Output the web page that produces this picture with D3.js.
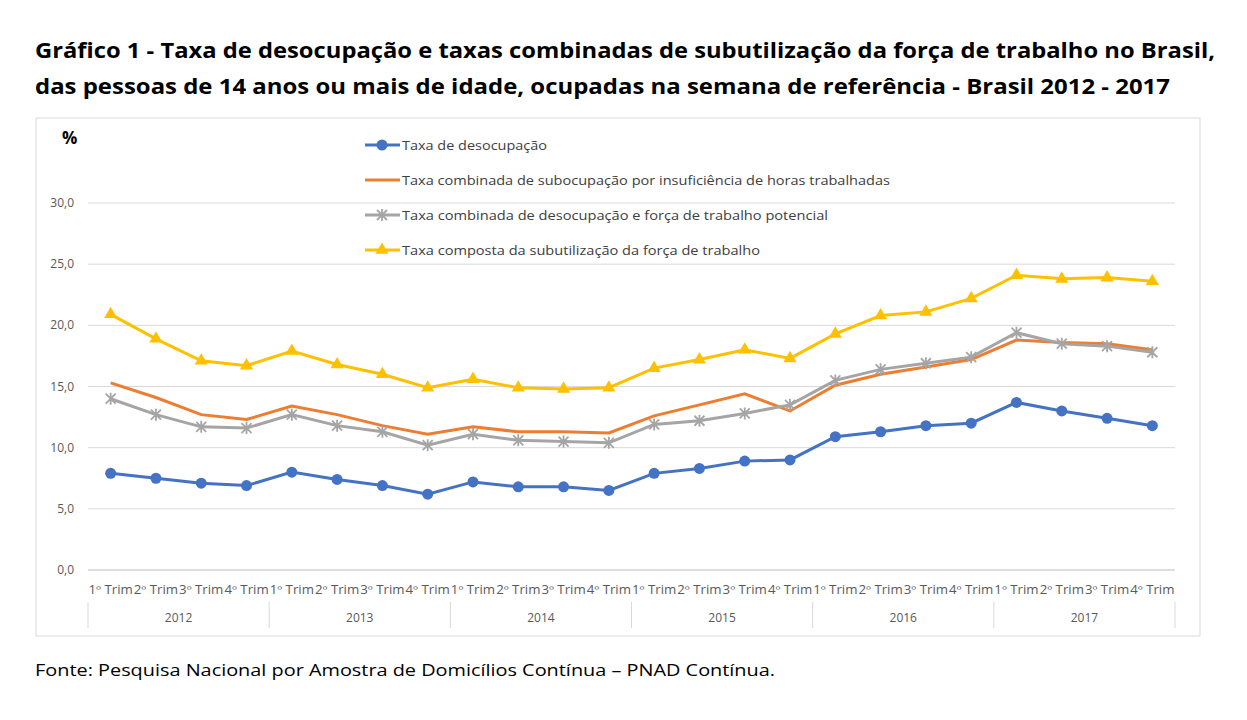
<html>
<head>
<script src="https://cdn.jsdelivr.net/npm/d3@7"></script>
</head>
<body style="margin:0;background:#fff">
<div id="chart"></div>
<script>
var years = ["2012","2013","2014","2015","2016","2017"];
var quarters = ["1º Trim","2º Trim","3º Trim","4º Trim"];
var yTicks = [0,5,10,15,20,25,30];

var desocupacao = [7.9,7.5,7.1,6.9, 8.0,7.4,6.9,6.2, 7.2,6.8,6.8,6.5, 7.9,8.3,8.9,9.0, 10.9,11.3,11.8,12.0, 13.7,13.0,12.4,11.8];
var subocupacao = [15.3,14.1,12.7,12.3, 13.4,12.7,11.8,11.1, 11.7,11.3,11.3,11.2, 12.6,13.5,14.4,13.0, 15.1,16.0,16.6,17.2, 18.8,18.6,18.5,18.0];
var potencial = [14.0,12.7,11.7,11.6, 12.7,11.8,11.3,10.2, 11.1,10.6,10.5,10.4, 11.9,12.2,12.8,13.5, 15.5,16.4,16.9,17.4, 19.4,18.5,18.3,17.8];
var composta = [20.9,18.9,17.1,16.7, 17.9,16.8,16.0,14.9, 15.6,14.9,14.8,14.9, 16.5,17.2,18.0,17.3, 19.3,20.8,21.1,22.2, 24.1,23.8,23.9,23.6];

var series = [
  {name:"Taxa de desocupação", values:desocupacao, color:"#4472c4", marker:"circle", w:145},
  {name:"Taxa combinada de subocupação por insuficiência de horas trabalhadas", values:subocupacao, color:"#ed7d31", marker:"none", w:488},
  {name:"Taxa combinada de desocupação e força de trabalho potencial", values:potencial, color:"#a5a5a5", marker:"star", w:426},
  {name:"Taxa composta da subutilização da força de trabalho", values:composta, color:"#ffc000", marker:"triangle", w:358}
];

var svg = d3.select("#chart").append("svg").attr("width",1247).attr("height",720)
  .style("font-family","'Open Sans', sans-serif");

svg.append("text").attr("x",35).attr("y",58).attr("font-size",21).attr("font-weight","bold")
  .attr("textLength",1180).attr("lengthAdjust","spacingAndGlyphs")
  .text("Gráfico 1 - Taxa de desocupação e taxas combinadas de subutilização da força de trabalho no Brasil,");
svg.append("text").attr("x",35).attr("y",94).attr("font-size",21).attr("font-weight","bold")
  .attr("textLength",1135).attr("lengthAdjust","spacingAndGlyphs")
  .text("das pessoas de 14 anos ou mais de idade, ocupadas na semana de referência - Brasil 2012 - 2017");

svg.append("rect").attr("x",36).attr("y",118).attr("width",1164).attr("height",518)
  .attr("fill","none").attr("stroke","#d9d9d9");
svg.append("text").attr("x",62).attr("y",144).attr("font-size",17).attr("font-weight","bold").text("%");

var cats = [];
years.forEach(function(y){ quarters.forEach(function(q){ cats.push(y+"-"+q); }); });

var x = d3.scaleBand().domain(cats).range([88,1175]);
var y = d3.scaleLinear().domain([0,30]).range([570,203]);

svg.append("g").selectAll("line").data(yTicks).enter().append("line")
  .attr("x1",88).attr("x2",1175).attr("y1",d=>y(d)).attr("y2",d=>y(d))
  .attr("stroke",d=>d===0?"#bfbfbf":"#d9d9d9");
svg.append("g").selectAll("text").data(yTicks).enter().append("text")
  .attr("x",74).attr("y",d=>y(d)+4).attr("text-anchor","end").attr("font-size",12).attr("fill","#595959")
  .text(d=>d3.format(".1f")(d).replace(".",","));

svg.append("g").selectAll("text").data(cats).enter().append("text")
  .attr("x",d=>x(d)+x.bandwidth()/2).attr("y",594).attr("text-anchor","middle")
  .attr("font-size",12).attr("fill","#595959")
  .attr("textLength",x.bandwidth()-1).attr("lengthAdjust","spacingAndGlyphs")
  .text(d=>d.split("-")[1]);

var yw = x.bandwidth()*4;
svg.append("g").selectAll("line").data(d3.range(years.length+1)).enter().append("line")
  .attr("x1",i=>88+i*yw).attr("x2",i=>88+i*yw).attr("y1",602).attr("y2",628).attr("stroke","#d9d9d9");
svg.append("g").selectAll("text").data(years).enter().append("text")
  .attr("x",(d,i)=>88+i*yw+yw/2).attr("y",622).attr("text-anchor","middle")
  .attr("font-size",12).attr("fill","#595959").text(d=>d);

var line = d3.line().x((d,i)=>x(cats[i])+x.bandwidth()/2).y(d=>y(d));

function marker(g, type, color){
  if(type==="circle") g.append("circle").attr("r",5.5).attr("fill",color);
  else if(type==="triangle") g.append("path").attr("d",d3.symbol(d3.symbolTriangle,75)()).attr("fill",color);
  else if(type==="star") g.append("path").attr("d","M-5,-5L5,5M-5,5L5,-5M0,-6L0,6").attr("stroke",color).attr("stroke-width",1.8);
}

series.forEach(function(s){
  svg.append("path").attr("d",line(s.values)).attr("fill","none").attr("stroke",s.color).attr("stroke-width",3);
  s.values.forEach(function(v,i){
    var g = svg.append("g").attr("transform","translate("+(x(cats[i])+x.bandwidth()/2)+","+y(v)+")");
    marker(g,s.marker,s.color);
  });
});

series.forEach(function(s,i){
  var ly = 145+i*35;
  svg.append("line").attr("x1",365).attr("x2",400).attr("y1",ly).attr("y2",ly).attr("stroke",s.color).attr("stroke-width",3);
  marker(svg.append("g").attr("transform","translate(382,"+ly+")"),s.marker,s.color);
  svg.append("text").attr("x",402).attr("y",ly+5).attr("font-size",13.5).attr("fill","#404040")
    .attr("textLength",s.w).attr("lengthAdjust","spacingAndGlyphs").text(s.name);
});

svg.append("text").attr("x",35).attr("y",676).attr("font-size",17)
  .attr("textLength",740).attr("lengthAdjust","spacingAndGlyphs")
  .text("Fonte: Pesquisa Nacional por Amostra de Domicílios Contínua – PNAD Contínua.");
</script>
</body>
</html>
